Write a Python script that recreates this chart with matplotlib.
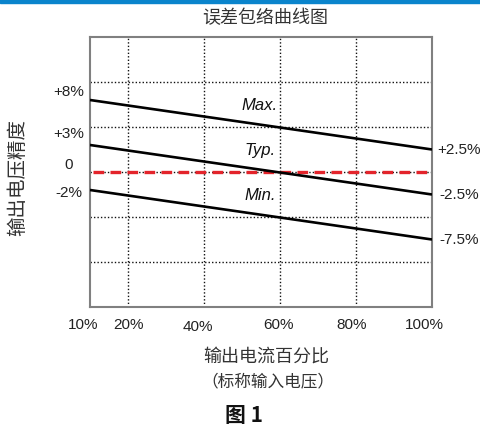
import numpy as np
import matplotlib
matplotlib.use("Agg")
import matplotlib.pyplot as plt
from matplotlib.patches import Rectangle

plt.rcParams['font.family'] = ['Liberation Sans', 'Noto Sans CJK SC', 'DejaVu Sans']
CJK = ['Noto Sans CJK SC', 'DejaVu Sans']

# load (% of rated output current) at both ends, output voltage accuracy (%)
load_pct = [10, 100]
max_acc = [8, 2.5]
typ_acc = [3, -2.5]
min_acc = [-2, -7.5]
curve_names = ["Max.", "Typ.", "Min."]

x_ticks = [10, 20, 40, 60, 80, 100]
x_tick_labels = ["10%", "20%", "40%", "60%", "80%", "100%"]
left_values = [8, 3, 0, -2]
left_labels = ["+8%", "+3%", "0", "-2%"]
right_labels = ["+2.5%", "-2.5%", "-7.5%"]

# small hand tweaks (pixels) so labels sit like in the original drawing
x_label_dx = [-7, 0, -6, -1, -4, -8]
left_dy = [9, 12, 8, -2]

W, H = 480, 427
PT = 0.72  # points per pixel at 100 dpi


def fx(px):
    return px / W


def fy(py):
    return 1 - py / H


fig = plt.figure(figsize=(W / 100, H / 100), dpi=100)
fig.patches.append(Rectangle((0, fy(3.5)), 1, 3.5 / H, transform=fig.transFigure,
                             color='#0a84cc', zorder=10))

ax = fig.add_axes([fx(90), fy(308), 342 / W, 270 / H])
ax.set_xlim(10, 100)
ax.set_ylim(-15, 15)
ax.set_xticks([])
ax.set_yticks([])
for s in ax.spines.values():
    s.set_color('#808080')
    s.set_linewidth(1.5)

# dotted grid
grid_style = dict(color='#111111', lw=1.0, ls=(0, (1, 1.5)), zorder=1)
for v in [20, 40, 60, 80]:
    ax.axvline(v, **grid_style)
for v in [-10, -5, 0, 5, 10]:
    ax.axhline(v, **grid_style)

# zero reference
red, = ax.plot([10.8, 100], [0, 0], color='#e3242b', lw=2.4, zorder=3)
red.set_dashes([3.2, 1.9])

curves = [max_acc, typ_acc, min_acc]
for vals in curves:
    ax.plot(load_pct, vals, color='black', lw=1.9, zorder=4, solid_capstyle='butt')

# curve names
label_x = 54.7
for name, vals in zip(curve_names, curves):
    y = np.interp(label_x, load_pct, vals)
    ax.annotate(name, (label_x, y), xytext=(0, 20 * PT), textcoords='offset points',
                ha='center', va='center', style='italic', fontsize=12, color='#111111')

# left labels (start values)
for val, lab, dy in zip(left_values, left_labels, left_dy):
    ax.annotate(lab, (0, val), xycoords=('axes fraction', 'data'),
                xytext=(-21 * PT, dy * PT), textcoords='offset points',
                ha='center', va='center', fontsize=11, color='#222222')

# right labels (end values)
for vals, lab in zip(curves, right_labels):
    ax.annotate(lab, (1, vals[-1]), xycoords=('axes fraction', 'data'),
                xytext=(27 * PT, 0), textcoords='offset points',
                ha='center', va='center', fontsize=11, color='#222222')

# x labels
for xv, lab, dx in zip(x_ticks, x_tick_labels, x_label_dx):
    dy = -19 if xv == 40 else -17
    ax.annotate(lab, (xv, 0), xycoords=('data', 'axes fraction'),
                xytext=(dx * PT, dy * PT), textcoords='offset points',
                ha='center', va='center', fontsize=11, color='#222222')

fig.text(fx(265), fy(18), "误差包络曲线图", family=CJK, fontsize=13, color='#333333',
         ha='center', va='center')
fig.text(fx(18), fy(178), "输出电压精度", family=CJK, fontsize=14, color='#333333',
         ha='center', va='center', rotation=90)
fig.text(fx(266), fy(357), "输出电流百分比", family=CJK, fontsize=13, color='#333333',
         ha='center', va='center')
fig.text(fx(268), fy(382), "（标称输入电压）", family=CJK, fontsize=12, color='#333333',
         ha='center', va='center')
fig.text(fx(244), fy(416), "图 1", family=CJK, fontsize=15, color='#111111',
         ha='center', va='center', fontweight='bold')

fig.savefig("out.png", dpi=100, facecolor='white')
